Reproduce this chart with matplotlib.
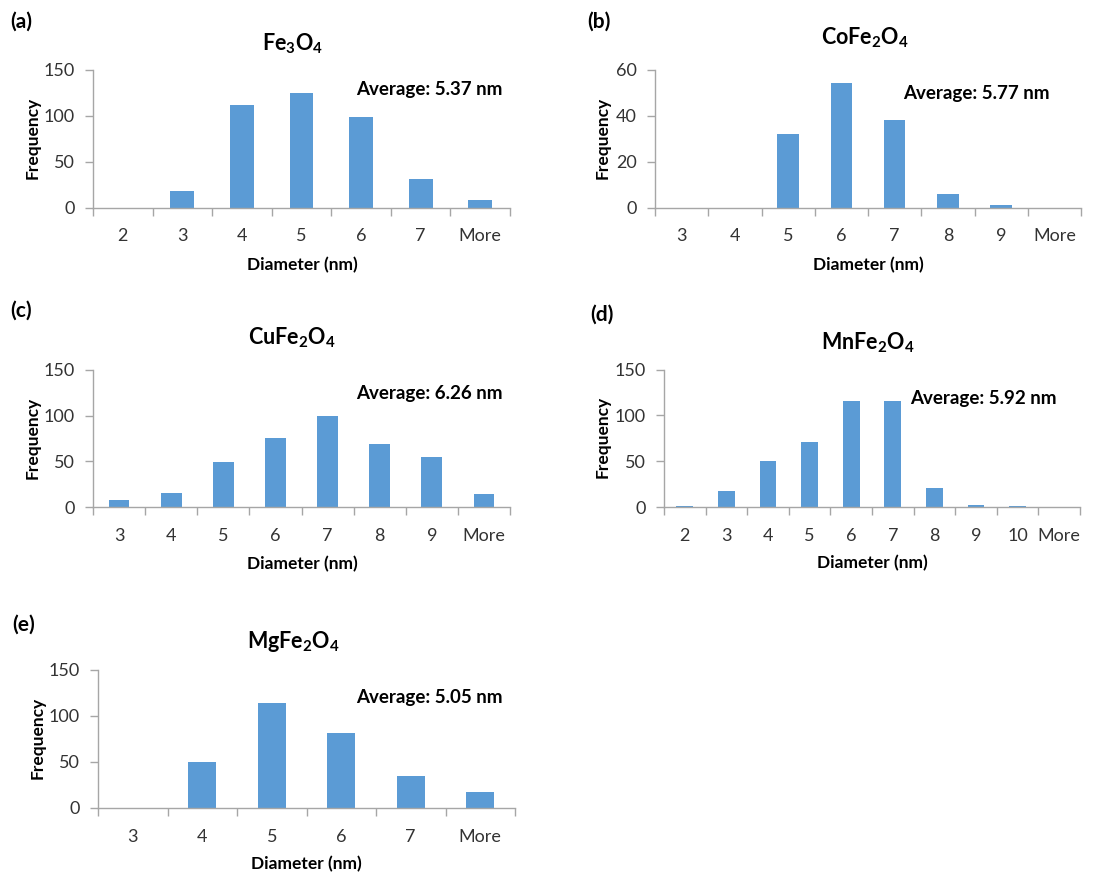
import matplotlib
matplotlib.use("Agg")
import matplotlib.pyplot as plt

plt.rcParams['font.family'] = ['Lato', 'DejaVu Sans']
plt.rcParams['mathtext.fontset'] = 'custom'
plt.rcParams['mathtext.rm'] = 'Lato:bold'
plt.rcParams['mathtext.bf'] = 'Lato:bold'
plt.rcParams['mathtext.default'] = 'regular'

# Size-distribution histograms (counts per diameter bin)
fe3o4_bins = ['2', '3', '4', '5', '6', '7', 'More']
fe3o4_freq = [0, 18, 111, 125, 98, 31, 8]

cofe2o4_bins = ['3', '4', '5', '6', '7', '8', '9', 'More']
cofe2o4_freq = [0, 0, 32, 54, 38, 6, 1, 0]

cufe2o4_bins = ['3', '4', '5', '6', '7', '8', '9', 'More']
cufe2o4_freq = [8, 16, 49, 76, 100, 69, 55, 15]

mnfe2o4_bins = ['2', '3', '4', '5', '6', '7', '8', '9', '10', 'More']
mnfe2o4_freq = [1, 17, 50, 71, 116, 116, 21, 2, 1, 0]

mgfe2o4_bins = ['3', '4', '5', '6', '7', 'More']
mgfe2o4_freq = [0, 50, 114, 81, 34, 17]

titles = ['Fe$_3$O$_4$', 'CoFe$_2$O$_4$', 'CuFe$_2$O$_4$', 'MnFe$_2$O$_4$', 'MgFe$_2$O$_4$']
averages = ['Average: 5.37 nm', 'Average: 5.77 nm', 'Average: 6.26 nm',
            'Average: 5.92 nm', 'Average: 5.05 nm']
panel_tags = ['(a)', '(b)', '(c)', '(d)', '(e)']
y_limits = [150, 60, 150, 150, 150]
y_steps = [50, 20, 50, 50, 50]

W, H = 1120, 875
fig = plt.figure(figsize=(W / 100, H / 100), dpi=100)


def fx(px):
    return px / W


def fy(py):
    return 1 - py / H


# axes boxes in pixels: left, right, top, bottom
boxes = [
    (93, 510, 69.5, 207.5),
    (655, 1081, 69.5, 207.5),
    (93, 510, 369.5, 507.5),
    (664, 1080, 369.5, 507),
    (98, 515, 669.5, 807.7),
]
# text anchors in pixels
tag_pos = [(10, 22), (587, 22), (10, 311), (590, 315), (12, 625)]
title_pos = [(293, 44), (865, 38), (292, 338), (868, 343), (293, 642)]
avg_pos = [(356, 90), (903, 94), (356, 394), (910, 399), (356, 698)]
ylab_pos = [(33, 138), (603, 138), (33, 438), (603, 437), (38, 738)]
xlab_pos = [(302, 265), (868, 265), (302, 564), (872, 563), (306, 864)]

datasets = [
    (fe3o4_bins, fe3o4_freq),
    (cofe2o4_bins, cofe2o4_freq),
    (cufe2o4_bins, cufe2o4_freq),
    (mnfe2o4_bins, mnfe2o4_freq),
    (mgfe2o4_bins, mgfe2o4_freq),
]

bar_color = '#5B9BD5'
axis_color = '#A6A6A6'
tick_text = '#333333'

for i, (bins, freq) in enumerate(datasets):
    l, r, t, b = boxes[i]
    ax = fig.add_axes([fx(l), fy(b), fx(r - l), (b - t) / H])
    n = len(bins)
    x = list(range(n))
    ax.bar(x, freq, width=0.4, color=bar_color, zorder=2)
    ax.set_xlim(-0.5, n - 0.5)
    ax.set_ylim(0, y_limits[i])
    ax.set_yticks(range(0, y_limits[i] + 1, y_steps[i]))
    ax.set_xticks(x)
    ax.set_xticklabels(bins)
    ax.set_xticks([k - 0.5 for k in range(n + 1)], minor=True)
    ax.tick_params(axis='x', which='major', length=0, pad=15,
                   labelsize=13, labelcolor=tick_text)
    ax.tick_params(axis='x', which='minor', length=6, width=1, color=axis_color)
    ax.tick_params(axis='y', length=6, width=1, color=axis_color, pad=7,
                   labelsize=13, labelcolor=tick_text)
    for side in ('top', 'right'):
        ax.spines[side].set_visible(False)
    for side in ('left', 'bottom'):
        ax.spines[side].set_color(axis_color)
        ax.spines[side].set_linewidth(1)

    fig.text(fx(tag_pos[i][0]), fy(tag_pos[i][1]), panel_tags[i],
             fontsize=15, fontweight='bold', ha='left', va='center')
    fig.text(fx(title_pos[i][0]), fy(title_pos[i][1]), titles[i],
             fontsize=15.5, fontweight='bold', ha='center', va='center')
    fig.text(fx(avg_pos[i][0]), fy(avg_pos[i][1]), averages[i],
             fontsize=13.5, fontweight='bold', ha='left', va='center')
    fig.text(fx(ylab_pos[i][0]), fy(ylab_pos[i][1]), 'Frequency',
             fontsize=12.5, fontweight='bold', ha='center', va='center',
             rotation=90)
    fig.text(fx(xlab_pos[i][0]), fy(xlab_pos[i][1]), 'Diameter (nm)',
             fontsize=12.5, fontweight='bold', ha='center', va='center')

fig.savefig('out.png', dpi=100, facecolor='white')
